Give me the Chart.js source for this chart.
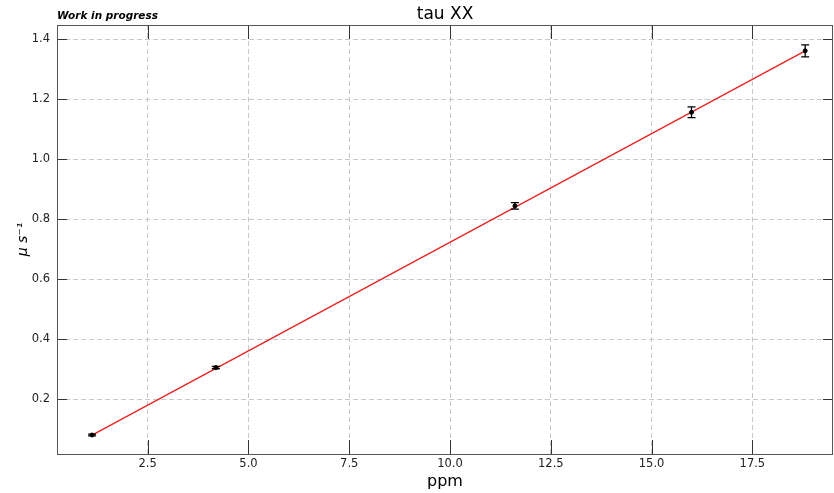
<!DOCTYPE html>
<html lang="en">
<head>
  <meta charset="UTF-8">
  <title>tau XX</title>
  <script src="https://cdn.jsdelivr.net/npm/chart.js"></script>
  <style>
    body { margin: 0; background: #fff; }
    canvas { display: block; }
  </style>
</head>
<body>
  <canvas id="tauChart" width="834" height="493"></canvas>

  <script>
    // measured points
    const ppm = [1.12, 4.19, 11.61, 15.99, 18.81];
    const tau = [0.080, 0.305, 0.844, 1.156, 1.361];
    const tauErr = [0.003, 0.004, 0.011, 0.018, 0.020];

    // linear fit, drawn between first and last ppm
    const fitX = [1.12, 18.81];
    const fitY = [0.080, 1.361];

    const xTicks = [2.5, 5.0, 7.5, 10.0, 12.5, 15.0, 17.5];
    const yTicks = [0.2, 0.4, 0.6, 0.8, 1.0, 1.2, 1.4];

    const FONT = 'DejaVu Sans';

    // error bars, inward ticks, frame and texts
    const decor = {
      id: 'decor',
      afterDatasetsDraw(chart) {
        const { ctx, chartArea: a, scales: { x, y } } = chart;
        ctx.save();

        // error bars
        ctx.strokeStyle = '#000';
        ctx.lineWidth = 1.3;
        ppm.forEach((v, i) => {
          const px = x.getPixelForValue(v);
          const top = y.getPixelForValue(tau[i] + tauErr[i]);
          const bot = y.getPixelForValue(tau[i] - tauErr[i]);
          ctx.beginPath();
          ctx.moveTo(px, top); ctx.lineTo(px, bot);
          ctx.moveTo(px - 4, top); ctx.lineTo(px + 4, top);
          ctx.moveTo(px - 4, bot); ctx.lineTo(px + 4, bot);
          ctx.stroke();
        });

        // tick marks pointing inward on all four sides
        ctx.strokeStyle = '#333';
        ctx.lineWidth = 1;
        ctx.beginPath();
        xTicks.forEach(t => {
          const px = Math.round(x.getPixelForValue(t)) + 0.5;
          ctx.moveTo(px, a.bottom); ctx.lineTo(px, a.bottom - 14);
          ctx.moveTo(px, a.top); ctx.lineTo(px, a.top + 14);
        });
        yTicks.forEach(t => {
          const py = Math.round(y.getPixelForValue(t)) + 0.5;
          ctx.moveTo(a.left, py); ctx.lineTo(a.left + 10, py);
          ctx.moveTo(a.right, py); ctx.lineTo(a.right - 10, py);
        });
        ctx.stroke();

        // frame
        ctx.strokeStyle = '#555';
        ctx.strokeRect(Math.round(a.left) + 0.5, Math.round(a.top) + 0.5,
          Math.round(a.right - a.left) - 1, Math.round(a.bottom - a.top));

        // titles
        ctx.fillStyle = '#000';
        ctx.textBaseline = 'alphabetic';
        ctx.textAlign = 'left';
        ctx.font = 'italic bold 10.5px ' + FONT;
        ctx.fillText('Work in progress', a.left, 19);
        ctx.textAlign = 'center';
        ctx.font = '17px ' + FONT;
        ctx.fillText('tau XX', (a.left + a.right) / 2, 19);
        ctx.font = '16px ' + FONT;
        ctx.fillText('ppm', (a.left + a.right) / 2, 486);
        ctx.translate(27, (a.top + a.bottom) / 2);
        ctx.rotate(-Math.PI / 2);
        ctx.font = 'italic 14px ' + FONT;
        ctx.fillText('\u03bc s\u207b\u00b9', 0, 0);
        ctx.restore();
      }
    };

    const ctx = document.getElementById('tauChart').getContext('2d');
    new Chart(ctx, {
      type: 'scatter',
      data: {
        datasets: [{
          type: 'line',
          data: fitX.map((v, i) => ({ x: v, y: fitY[i] })),
          borderColor: 'rgb(235, 35, 35)',
          borderWidth: 1.4,
          pointRadius: 0,
          fill: false,
          order: 2,
        }, {
          data: ppm.map((v, i) => ({ x: v, y: tau[i] })),
          backgroundColor: '#000',
          borderColor: '#000',
          pointRadius: 2,
          order: 1,
        }]
      },
      options: {
        responsive: false,
        animation: false,
        events: [],
        layout: { autoPadding: false, padding: { top: 25, right: 1, left: 0, bottom: 0 } },
        plugins: { legend: { display: false }, tooltip: { enabled: false } },
        scales: {
          x: {
            type: 'linear',
            min: 0.25, max: 19.5,
            afterFit: s => { s.height = 39; s.paddingLeft = 0; s.paddingRight = 0; },
            afterBuildTicks: s => { s.ticks = xTicks.map(v => ({ value: v })); },
            ticks: {
              color: '#222', font: { family: FONT, size: 11.5 }, padding: 3,
              callback: v => v.toFixed(1),
            },
            grid: { color: '#c8c8c8', drawTicks: false },
            border: { display: false, dash: [5, 3] },
          },
          y: {
            min: 0.0167, max: 1.447,
            afterFit: s => { s.width = 57; s.paddingTop = 0; s.paddingBottom = 0; },
            afterBuildTicks: s => { s.ticks = yTicks.map(v => ({ value: v })); },
            ticks: {
              color: '#222', font: { family: FONT, size: 11.5 }, padding: 7,
              callback: v => v.toFixed(1),
            },
            grid: { color: '#c8c8c8', drawTicks: false },
            border: { display: false, dash: [5, 3] },
          }
        }
      },
      plugins: [decor]
    });
  </script>
</body>
</html>
